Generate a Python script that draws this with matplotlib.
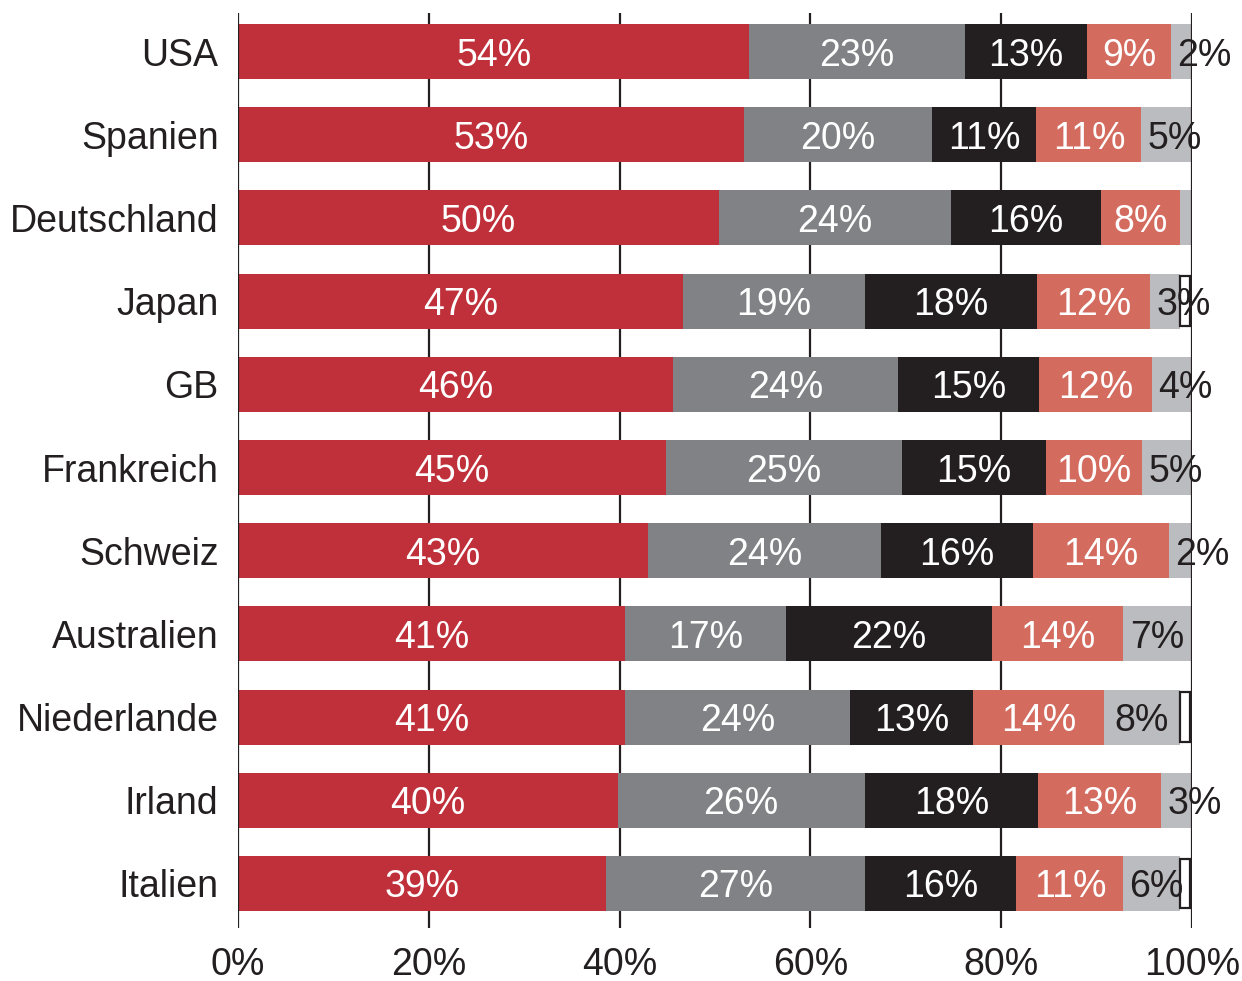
import matplotlib
matplotlib.use("Agg")
import matplotlib.pyplot as plt
import numpy as np

plt.rcParams['font.family'] = ['Liberation Sans', 'DejaVu Sans']

countries = ["USA", "Spanien", "Deutschland", "Japan", "GB", "Frankreich",
             "Schweiz", "Australien", "Niederlande", "Irland", "Italien"]

s_red    = [53.6, 53.0, 50.4, 46.6, 45.6, 44.9, 43.0, 40.6, 40.6, 39.8, 38.6]
s_gray   = [22.6, 19.7, 24.3, 19.1, 23.6, 24.7, 24.4, 16.8, 23.6, 25.9, 27.1]
s_black  = [12.8, 11.0, 15.8, 18.1, 14.8, 15.1, 15.9, 21.6, 12.8, 18.2, 15.9]
s_salmon = [8.8, 11.0, 8.2, 11.8, 11.8, 10.1, 14.3, 13.8, 13.8, 12.9, 11.2]
s_light  = [2.2, 5.3, 1.3, 3.1, 4.2, 5.2, 2.4, 7.2, 7.9, 3.2, 5.9]
s_white  = [0, 0, 0, 1.3, 0, 0, 0, 0, 1.3, 0, 1.3]

xticks = [0, 20, 40, 60, 80, 100]
xticklabels = ["0%", "20%", "40%", "60%", "80%", "100%"]

DARK = "#231f20"
series = [s_red, s_gray, s_black, s_salmon, s_light]
colors = ["#c0303a", "#818285", "#231f20", "#d46b5f", "#bbbcbf"]
txtcol = ["white", "white", "white", "white", DARK]

fig = plt.figure(figsize=(12.42, 9.81), dpi=100)
ax = fig.add_axes([238/1242, 53/981, (1192-238)/1242, (928-13)/981])

y = np.arange(len(countries))
left = np.zeros(len(countries))
FS = 27
for k, (vals, c) in enumerate(zip(series, colors)):
    vals = np.array(vals, dtype=float)
    ax.barh(y, vals, left=left, height=0.66, color=c, zorder=2, linewidth=0)
    for i in range(len(countries)):
        v = vals[i]
        if v >= 1.5:
            cx = left[i] + v / 2
            if k == 4:
                cx = max(cx, left[i] + 3.5)
            ax.text(cx, y[i], f"{int(round(v))}%", ha="center",
                    va="center_baseline",
                    color=txtcol[k], fontsize=FS, zorder=4)
    left = left + vals

wv = np.array(s_white, dtype=float)
mask = wv > 0
ax.barh(y[mask], wv[mask] - 0.25, left=left[mask] + 0.05, height=0.6,
        color="white", edgecolor=DARK, linewidth=1.6, zorder=3)

for xv in xticks:
    ax.axvline(xv, color=DARK, linewidth=1.6,
               zorder=3 if xv in (0, 100) else 1)

ax.set_xlim(0, 100)
ax.set_ylim(10.535, -0.463)
ax.set_yticks(y)
ax.set_yticklabels(countries, fontsize=FS, color=DARK)
ax.set_xticks(xticks)
ax.set_xticklabels(xticklabels, fontsize=FS, color=DARK)
ax.tick_params(axis="both", length=0)
ax.tick_params(axis="y", pad=14)
ax.tick_params(axis="x", pad=14)
for sp in ax.spines.values():
    sp.set_visible(False)

fig.savefig("out.png", dpi=100)
